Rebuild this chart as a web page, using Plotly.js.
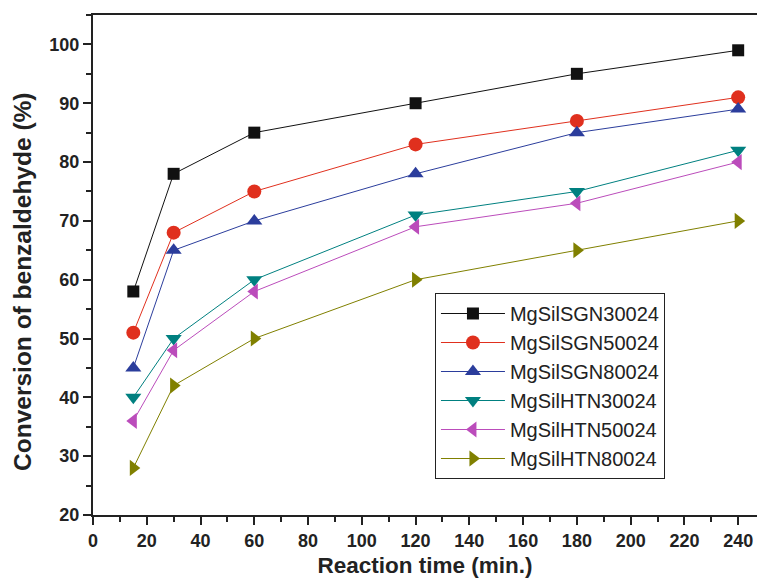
<!DOCTYPE html>
<html>
<head>
<meta charset="utf-8">
<script src="https://cdn.plot.ly/plotly-3.0.1.min.js"></script>
<style>html,body{margin:0;padding:0;background:#fff;}#chart{width:757px;height:580px;}</style>
</head>
<body>
<div id="chart"></div>
<script>
const time = [15, 30, 60, 120, 180, 240];
const names = ["MgSilSGN30024", "MgSilSGN50024", "MgSilSGN80024", "MgSilHTN30024", "MgSilHTN50024", "MgSilHTN80024"];
const sgn300 = [58, 78, 85, 90, 95, 99];
const sgn500 = [51, 68, 75, 83, 87, 91];
const sgn800 = [45, 65, 70, 78, 85, 89];
const htn300 = [40, 50, 60, 71, 75, 82];
const htn500 = [36, 48, 58, 69, 73, 80];
const htn800 = [28, 42, 50, 60, 65, 70];
const xTitle = "Reaction time (min.)";
const yTitle = "Conversion of benzaldehyde (%)";
const series = [sgn300, sgn500, sgn800, htn300, htn500, htn800];
const colors = ["#111111", "#e0301e", "#2b3d9c", "#008080", "#bb4cbb", "#808000"];
const symbols = ["square", "circle", "triangle-up", "triangle-down", "triangle-left", "triangle-right"];
const sizes = [12, 14, 14, 14, 14, 14];

const traces = series.map((s, i) => ({
  x: time, y: s, name: names[i], type: "scatter", mode: "lines+markers",
  line: {color: colors[i], width: 1},
  marker: {color: colors[i], symbol: symbols[i], size: sizes[i], line: {width: 0}}
}));

const fam = "Liberation Sans, Arial, sans-serif";
const tickFont = {family: fam, size: 18, color: "#222", weight: "bold"};
const layout = {
  width: 757, height: 580,
  margin: {l: 93, r: 0, t: 15, b: 65},
  paper_bgcolor: "#fff", plot_bgcolor: "#fff",
  showlegend: true,
  legend: {
    x: 0.515, y: 0.444, xanchor: "left", yanchor: "top",
    bordercolor: "#222", borderwidth: 1, bgcolor: "#fff",
    font: {family: fam, size: 20, color: "#222"},
    itemwidth: 64,
    tracegroupgap: 0
  },
  xaxis: {
    range: [0, 247], tickvals: [0,20,40,60,80,100,120,140,160,180,200,220,240],
    ticks: "outside", ticklen: 8, tickwidth: 2, tickcolor: "#222",
    showline: true, linewidth: 2, linecolor: "#222", mirror: true,
    showgrid: false, zeroline: false, tickfont: tickFont,
    minor: {dtick: 10, tick0: 0, ticks: "outside", ticklen: 5, tickwidth: 2, tickcolor: "#222", showgrid: false},
    title: {text: xTitle, font: {family: fam, size: 22.5, color: "#222", weight: "bold"}, standoff: 8}
  },
  yaxis: {
    range: [20, 105], tickvals: [20,30,40,50,60,70,80,90,100],
    ticks: "outside", ticklen: 8, tickwidth: 2, tickcolor: "#222",
    showline: true, linewidth: 2, linecolor: "#222", mirror: false,
    showgrid: false, zeroline: false, tickfont: tickFont,
    minor: {dtick: 5, tick0: 20, ticks: "outside", ticklen: 5, tickwidth: 2, tickcolor: "#222", showgrid: false}
  },
  annotations: [{
    text: yTitle, textangle: -90, showarrow: false,
    xref: "paper", yref: "paper", x: -0.107, y: 0.466, xanchor: "center", yanchor: "middle",
    font: {family: fam, size: 24.5, color: "#222", weight: "bold"}
  }]
};
Plotly.newPlot("chart", traces, layout, {displayModeBar: false, staticPlot: true});
</script>
</body>
</html>
